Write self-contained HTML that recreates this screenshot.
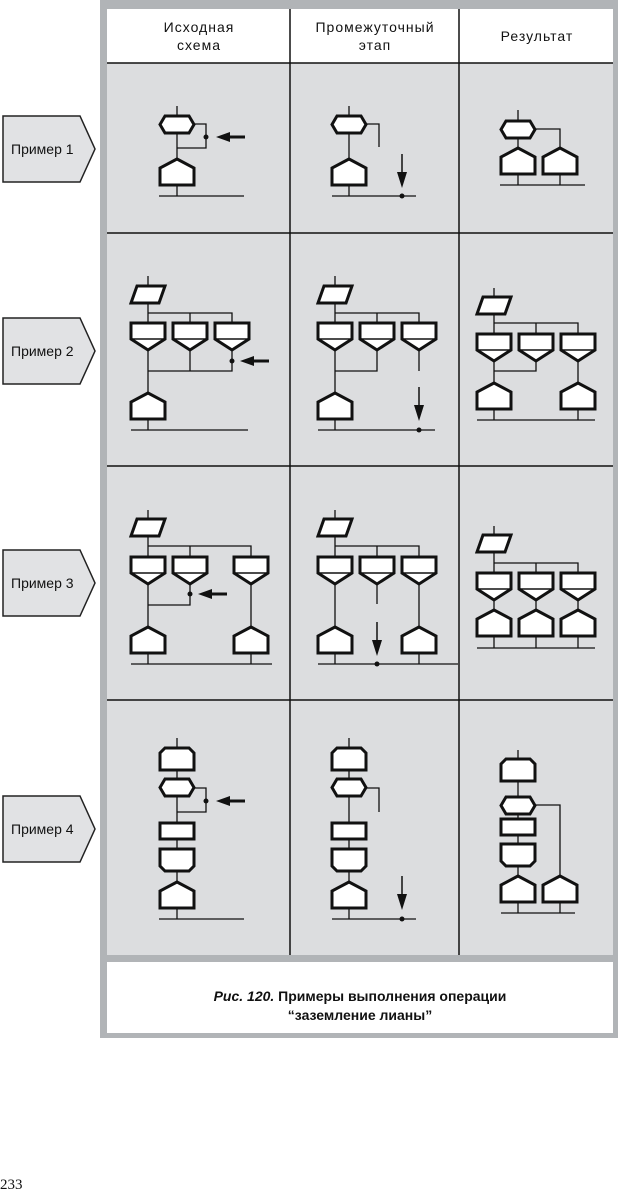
<!DOCTYPE html>
<html><head><meta charset="utf-8"><style>
html,body{margin:0;padding:0;background:#fff;}
body{width:620px;height:1193px;position:relative;overflow:hidden;font-family:"Liberation Sans",sans-serif;}
</style></head><body>
<svg width="620" height="1193" viewBox="0 0 620 1193" xmlns="http://www.w3.org/2000/svg" style="position:absolute;left:0;top:0">
<defs>
<g id="hex"><polygon points="-17,8.5 -12,0 12,0 17,8.5 12,17 -12,17" fill="#fff" stroke="#111" stroke-width="3"/></g>
<g id="house"><polygon points="-17,26 -17,9 0,0 17,9 17,26" fill="#fff" stroke="#111" stroke-width="3"/></g>
<g id="fun"><polygon points="-17,0 17,0 17,16 0,27 -17,16" fill="#fff" stroke="#111" stroke-width="3"/><line x1="-16" y1="16" x2="16" y2="16" stroke="#111" stroke-width="1.5"/></g>
<g id="para"><polygon points="-11,0 17,0 11,17 -17,17" fill="#fff" stroke="#111" stroke-width="3"/></g>
<g id="rct"><rect x="-17" y="0" width="34" height="16" fill="#fff" stroke="#111" stroke-width="3"/></g>
<g id="ctop"><polygon points="-17,22 -17,5 -12,0 12,0 17,5 17,22" fill="#fff" stroke="#111" stroke-width="3"/></g>
<g id="cbot"><polygon points="-17,0 17,0 17,17 12,22 -12,22 -17,17" fill="#fff" stroke="#111" stroke-width="3"/></g>
<g id="arL"><line x1="0" y1="0" x2="-18" y2="0" stroke="#111" stroke-width="3"/><polygon points="-29,0 -15,-5 -15,5" fill="#111"/></g>
<g id="arD"><line x1="0" y1="0" x2="0" y2="22" stroke="#111" stroke-width="1.5"/><polygon points="0,34 -5,18 5,18" fill="#111"/></g>
</defs>
<rect x="100" y="0" width="518" height="1038" fill="#b1b4b7"/>
<rect x="107" y="9" width="506" height="946" fill="#dcdddf"/>
<rect x="107" y="9" width="506" height="54" fill="#fff"/>
<rect x="107" y="962" width="506" height="71" fill="#fff"/>
<g stroke="#111" stroke-width="1.5">
<line x1="107" y1="63" x2="613" y2="63"/>
<line x1="107" y1="233" x2="613" y2="233"/>
<line x1="107" y1="466" x2="613" y2="466"/>
<line x1="107" y1="700" x2="613" y2="700"/>
<line x1="290" y1="9" x2="290" y2="955"/>
<line x1="459" y1="9" x2="459" y2="955"/>
</g>
<g font-size="14" fill="#111" text-anchor="middle" letter-spacing="1">
<text x="199" y="32">Исходная</text><text x="199" y="50">схема</text>
<text x="375" y="32">Промежуточный</text><text x="375" y="50">этап</text>
<text x="537" y="41">Результат</text>
</g>
<g font-size="14" font-weight="bold" fill="#111" text-anchor="middle">
<text x="360" y="1001"><tspan font-style="italic">Рис. 120.</tspan>  Примеры выполнения операции</text>
<text x="360" y="1020">“заземление лианы”</text>
</g>
<g fill="#e1e2e4" stroke="#222" stroke-width="1.5">
<polygon points="3,116 80,116 95,149 80,182 3,182"/>
<polygon points="3,318 80,318 95,351 80,384 3,384"/>
<polygon points="3,550 80,550 95,583 80,616 3,616"/>
<polygon points="3,796 80,796 95,829 80,862 3,862"/>
</g>
<g font-size="14" fill="#111">
<text x="11" y="154">Пример 1</text>
<text x="11" y="356">Пример 2</text>
<text x="11" y="588">Пример 3</text>
<text x="11" y="834">Пример 4</text>
</g>
<text x="0" y="1189" font-family="Liberation Serif,serif" font-size="15" fill="#111">233</text>

<g stroke="#111" stroke-width="1.3" fill="none">
<path d="M177 106V196M159 196H244M194 124H206V148H177"/>
<path d="M349 106V196M332 196H416M366 124H379V147"/>
<path d="M518 110V185M500 185H585M535 129H560V185"/>
<path d="M148 276V430M131 430H248M148 313H232V323M190 313V323M190 350V371H148M232 350V371H148"/>
<path d="M335 276V430M318 430H435M335 313H419V323M377 313V323M377 350V371H335M419 350V371"/>
<path d="M494 288V420M477 420H595M494 323H578V334M536 323V334M536 360V371H494M578 360V420"/>
<path d="M148 510V664M131 664H272M148 546H251V557M190 546V557M190 584V605H148M251 584V664"/>
<path d="M335 510V664M318 664H458M335 546H419V557M377 546V557M377 584V604M419 584V664"/>
<path d="M494 526V648M477 648H595M494 563H578V648M536 563V648"/>
<path d="M177 738V919M159 919H244M194 788H206V812H177"/>
<path d="M349 738V919M332 919H416M366 788H379V812"/>
<path d="M518 750V913M501 913H575M535 805H560V913"/>
</g>

<use href="#hex" transform="translate(177,116)"/><use href="#house" transform="translate(177,159)"/>
<use href="#hex" transform="translate(349,116)"/><use href="#house" transform="translate(349,159)"/>
<use href="#hex" transform="translate(518,121)"/><use href="#house" transform="translate(518,148)"/><use href="#house" transform="translate(560,148)"/>
<circle cx="206" cy="137" r="2.5" fill="#111"/><use href="#arL" transform="translate(245,137)"/>
<circle cx="402" cy="196" r="2.5" fill="#111"/><use href="#arD" transform="translate(402,154)"/>
<use href="#para" transform="translate(148,286)"/>
<use href="#fun" transform="translate(148,323)"/><use href="#fun" transform="translate(190,323)"/><use href="#fun" transform="translate(232,323)"/>
<use href="#house" transform="translate(148,393)"/>
<circle cx="232" cy="361" r="2.5" fill="#111"/><use href="#arL" transform="translate(269,361)"/>
<use href="#para" transform="translate(335,286)"/>
<use href="#fun" transform="translate(335,323)"/><use href="#fun" transform="translate(377,323)"/><use href="#fun" transform="translate(419,323)"/>
<use href="#house" transform="translate(335,393)"/>
<circle cx="419" cy="430" r="2.5" fill="#111"/><use href="#arD" transform="translate(419,387)"/>
<use href="#para" transform="translate(494,297)"/>
<use href="#fun" transform="translate(494,334)"/><use href="#fun" transform="translate(536,334)"/><use href="#fun" transform="translate(578,334)"/>
<use href="#house" transform="translate(494,383)"/><use href="#house" transform="translate(578,383)"/>
<use href="#para" transform="translate(148,519)"/>
<use href="#fun" transform="translate(148,557)"/><use href="#fun" transform="translate(190,557)"/><use href="#fun" transform="translate(251,557)"/>
<use href="#house" transform="translate(148,627)"/><use href="#house" transform="translate(251,627)"/>
<circle cx="190" cy="594" r="2.5" fill="#111"/><use href="#arL" transform="translate(227,594)"/>
<use href="#para" transform="translate(335,519)"/>
<use href="#fun" transform="translate(335,557)"/><use href="#fun" transform="translate(377,557)"/><use href="#fun" transform="translate(419,557)"/>
<use href="#house" transform="translate(335,627)"/><use href="#house" transform="translate(419,627)"/>
<circle cx="377" cy="664" r="2.5" fill="#111"/><use href="#arD" transform="translate(377,622)"/>
<use href="#para" transform="translate(494,535)"/>
<use href="#fun" transform="translate(494,573)"/><use href="#fun" transform="translate(536,573)"/><use href="#fun" transform="translate(578,573)"/>
<use href="#house" transform="translate(494,610)"/><use href="#house" transform="translate(536,610)"/><use href="#house" transform="translate(578,610)"/>
<use href="#ctop" transform="translate(177,748)"/><use href="#hex" transform="translate(177,779)"/><use href="#rct" transform="translate(177,823)"/><use href="#cbot" transform="translate(177,849)"/><use href="#house" transform="translate(177,882)"/>
<circle cx="206" cy="801" r="2.5" fill="#111"/><use href="#arL" transform="translate(245,801)"/>
<use href="#ctop" transform="translate(349,748)"/><use href="#hex" transform="translate(349,779)"/><use href="#rct" transform="translate(349,823)"/><use href="#cbot" transform="translate(349,849)"/><use href="#house" transform="translate(349,882)"/>
<circle cx="402" cy="919" r="2.5" fill="#111"/><use href="#arD" transform="translate(402,876)"/>
<use href="#ctop" transform="translate(518,759)"/><use href="#hex" transform="translate(518,797)"/><use href="#rct" transform="translate(518,819)"/><use href="#cbot" transform="translate(518,844)"/><use href="#house" transform="translate(518,876)"/><use href="#house" transform="translate(560,876)"/>
</svg>
</body></html>
